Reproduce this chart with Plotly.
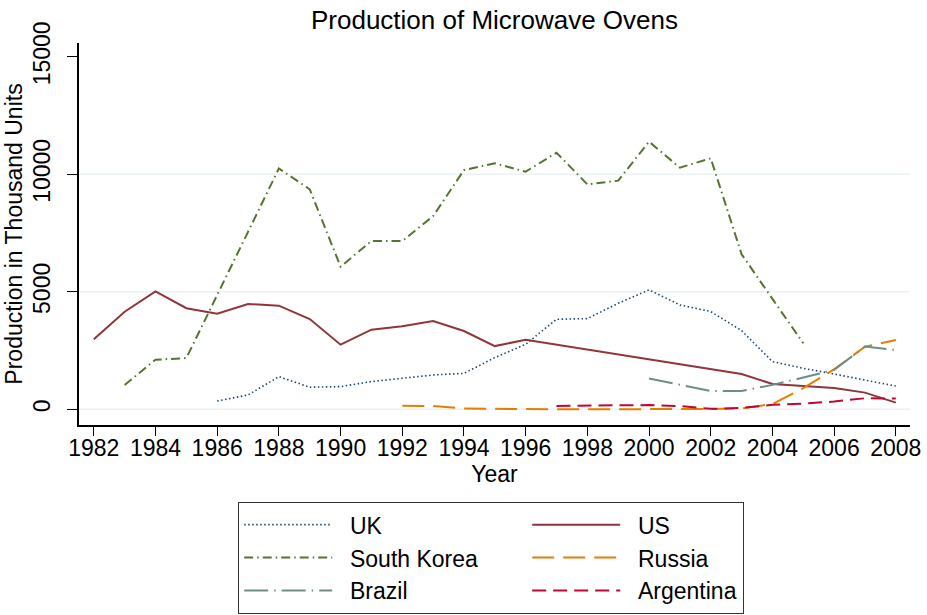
import plotly.graph_objects as go

# ---- data ----
UK_YEARS = list(range(1986, 2009))
UK = [355, 610, 1390, 940, 965, 1180, 1320, 1460, 1530, 2200, 2765, 3830, 3860,
      4510, 5080, 4440, 4160, 3350, 2030, 1745, 1500, 1250, 990]

US_YEARS = list(range(1982, 1997)) + list(range(2003, 2009))
US = [2980, 4150, 5020, 4300, 4070, 4480, 4410, 3840, 2750, 3390, 3530, 3760,
      3330, 2690, 2960, 1500, 1080, 990, 910, 710, 285]

SK_YEARS = list(range(1983, 2006))
SOUTH_KOREA = [1035, 2110, 2180, 4900, 7550, 10250, 9360, 6070, 7160, 7160, 8220,
               10180, 10470, 10110, 10920, 9570, 9730, 11390, 10280, 10680, 6600,
               4700, 2810]

RU_YEARS = list(range(1992, 2009))
RUSSIA = [150, 140, 30, 15, 5, 5, 5, 5, 5, 5, 10, 40, 225, 900, 1700, 2660, 2950]

BR_YEARS = list(range(2000, 2009))
BRAZIL = [1310, 1040, 780, 780, 1040, 1350, 1680, 2670, 2520]

AR_YEARS = list(range(1997, 2009))
ARGENTINA = [140, 170, 170, 180, 140, 20, 60, 190, 240, 330, 470, 460]

X_TICKS = list(range(1982, 2009, 2))
Y_TICKS = [0, 5000, 10000, 15000]
Y_TICK_LABELS = ["0", "5000", "10000", "15000"]
GRID_VALUES = [0, 5000, 10000]

FONT = "Liberation Sans, Arial, Helvetica, sans-serif"
PAD = "\u00a0\u00a0"

series = [
    ("UK", UK_YEARS, UK, "#1a476f", "1.5px,2.5px", 1.6, 185),
    ("US", US_YEARS, US, "#90353b", "solid", 2, 112),
    ("South Korea", SK_YEARS, SOUTH_KOREA, "#55752f", "9px,4px,1.5px,4px", 2, 185),
    ("Russia", RU_YEARS, RUSSIA, "#e37e00", "22px,9px", 2, 112),
    ("Brazil", BR_YEARS, BRAZIL, "#6e8e84", "24px,6px,1.5px,6px", 2, 185),
    ("Argentina", AR_YEARS, ARGENTINA, "#c10534", "14px,7px", 2, 112),
]

fig = go.Figure()
for name, xs, ys, color, dash, width, lw in series:
    fig.add_trace(go.Scatter(
        x=xs, y=ys, name=PAD + name, mode="lines",
        line=dict(color=color, dash=dash, width=width),
        legendwidth=lw,
    ))

for g in GRID_VALUES:
    fig.add_shape(type="line", xref="paper", x0=0, x1=1, yref="y", y0=g, y1=g,
                  line=dict(color="#eaf2f3", width=1.5), layer="below")

fig.update_layout(
    width=927, height=615,
    margin=dict(l=79, r=17, t=43, b=190, autoexpand=False),
    paper_bgcolor="white", plot_bgcolor="white",
    font=dict(family=FONT, size=23, color="black"),
    title=dict(text="Production of Microwave Ovens", x=0.5, xref="paper",
               xanchor="center", y=1 - 20 / 615, yref="container", yanchor="middle",
               font=dict(size=26, family=FONT, color="black")),
    xaxis=dict(range=[1981.52, 2008.46], tickvals=X_TICKS, showgrid=False,
               zeroline=False, showline=True, linecolor="black", linewidth=1.5,
               ticks="outside", ticklen=9, tickwidth=1.2, tickcolor="black",
               tickfont=dict(size=23), automargin=False, ticklabelstandoff=-7,
               title=dict(text="Year", font=dict(size=23), standoff=4)),
    yaxis=dict(range=[-668, 15587], tickvals=Y_TICKS, ticktext=Y_TICK_LABELS,
               showgrid=False, automargin=False,
               zeroline=False, showline=True, linecolor="black", linewidth=1.5,
               ticks="outside", ticklen=10, tickwidth=1.2, tickcolor="black",
               tickangle=-90, tickfont=dict(size=23), ticklabelstandoff=8,
               title=dict(text="Production in Thousand Units", font=dict(size=23),
                          standoff=0)),
    showlegend=True,
    legend=dict(orientation="h", x=(238 - 79) / 831, xanchor="left",
                y=-(502 - 425) / 382, yanchor="top",
                bordercolor="#333333", borderwidth=1.2, bgcolor="white",
                itemwidth=88, font=dict(size=23), traceorder="normal",
                itemclick=False),
)

fig.write_html("out.html", config={"displayModeBar": False},
               post_script="document.body.style.margin='0';")
